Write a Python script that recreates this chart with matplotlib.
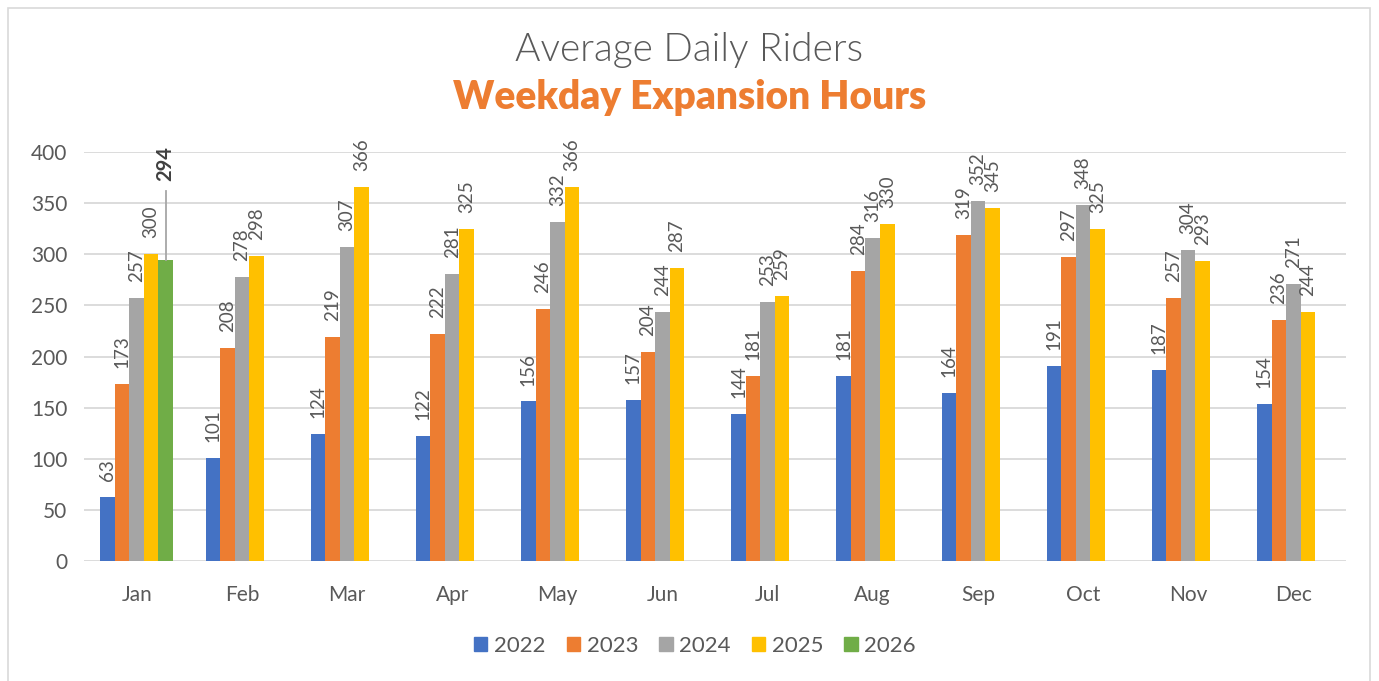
import matplotlib.pyplot as plt
import matplotlib.patches as mpatches
import numpy as np

months = ['Jan', 'Feb', 'Mar', 'Apr', 'May', 'Jun', 'Jul', 'Aug', 'Sep', 'Oct', 'Nov', 'Dec']
years = ['2022', '2023', '2024', '2025', '2026']
riders_2022 = [63, 101, 124, 122, 156, 157, 144, 181, 164, 191, 187, 154]
riders_2023 = [173, 208, 219, 222, 246, 204, 181, 284, 319, 297, 257, 236]
riders_2024 = [257, 278, 307, 281, 332, 244, 253, 316, 352, 348, 304, 271]
riders_2025 = [300, 298, 366, 325, 366, 287, 259, 330, 345, 325, 293, 244]
riders_2026 = [294]

colors = ['#4472C4', '#ED7D31', '#A5A5A5', '#FFC000', '#70AD47']
text_gray = '#595959'
font = 'Lato'

fig = plt.figure(figsize=(13.79, 6.81), dpi=100)
ax = fig.add_axes([0.061, 0.1762, 0.915, 0.6006])

# chart border
fig.patches.append(mpatches.Rectangle((8 / 1379, -0.01), 1362 / 1379, 1 - 8 / 681 + 0.01,
                                      transform=fig.transFigure, fill=False,
                                      edgecolor='#d9d9d9', lw=1.2))

x = np.arange(len(months))
w = 0.138
series = [riders_2022, riders_2023, riders_2024, riders_2025, riders_2026]
for i, (vals, c, yr) in enumerate(zip(series, colors, years)):
    xs = x[:len(vals)] + (i - 2) * w
    ax.bar(xs, vals, width=w, color=c, label=yr, zorder=3)
    if yr == '2026':
        continue
    for xi, v in zip(xs, vals):
        ax.annotate(str(v), (xi, v), xytext=(0, 11.5), textcoords='offset points',
                    rotation=90, ha='center', va='bottom', fontsize=13.5,
                    color=text_gray, family=font, annotation_clip=False)

# highlighted 2026 label with leader line
xg = x[0] + 2 * w
ax.plot([xg, xg], [riders_2026[0], 362], color='#a6a6a6', lw=1.3, clip_on=False, zorder=4)
ax.text(xg, 372, str(riders_2026[0]), rotation=90, ha='center', va='bottom',
        fontsize=14.5, fontweight='bold', color='#404040', family=font, clip_on=False)

ax.set_xlim(-0.5, len(months) - 0.5)
ax.set_ylim(0, 400)
ax.set_yticks(range(0, 401, 50))
ax.set_xticks(x)
ax.set_xticklabels(months)
ax.yaxis.grid(True, color='#d9d9d9', lw=1.3, zorder=0)
ax.set_axisbelow(True)
for s in ax.spines.values():
    s.set_visible(False)
ax.tick_params(axis='x', length=0, labelsize=15, labelcolor=text_gray, pad=17)
ax.tick_params(axis='y', length=0, labelsize=15, labelcolor=text_gray, pad=12)
for lbl in ax.get_xticklabels() + ax.get_yticklabels():
    lbl.set_family(font)

fig.text(0.5, 1 - 50 / 681, 'Average Daily Riders', ha='center', va='center',
         fontsize=28, color=text_gray, family=font, fontweight=300)
fig.text(0.5, 1 - 98 / 681, 'Weekday Expansion Hours', ha='center', va='center',
         fontsize=28, color='#ED7D31', family=font, fontweight='heavy')

handles = [mpatches.Patch(color=c) for c in colors]
fig.legend(handles, years, loc='center', bbox_to_anchor=(0.504, 1 - 646 / 681), ncol=5,
           frameon=False, handlelength=0.6, handleheight=0.6, handletextpad=0.3,
           columnspacing=0.95, prop={'family': font, 'size': 16}, labelcolor=text_gray)

fig.savefig('out.png', dpi=100)
